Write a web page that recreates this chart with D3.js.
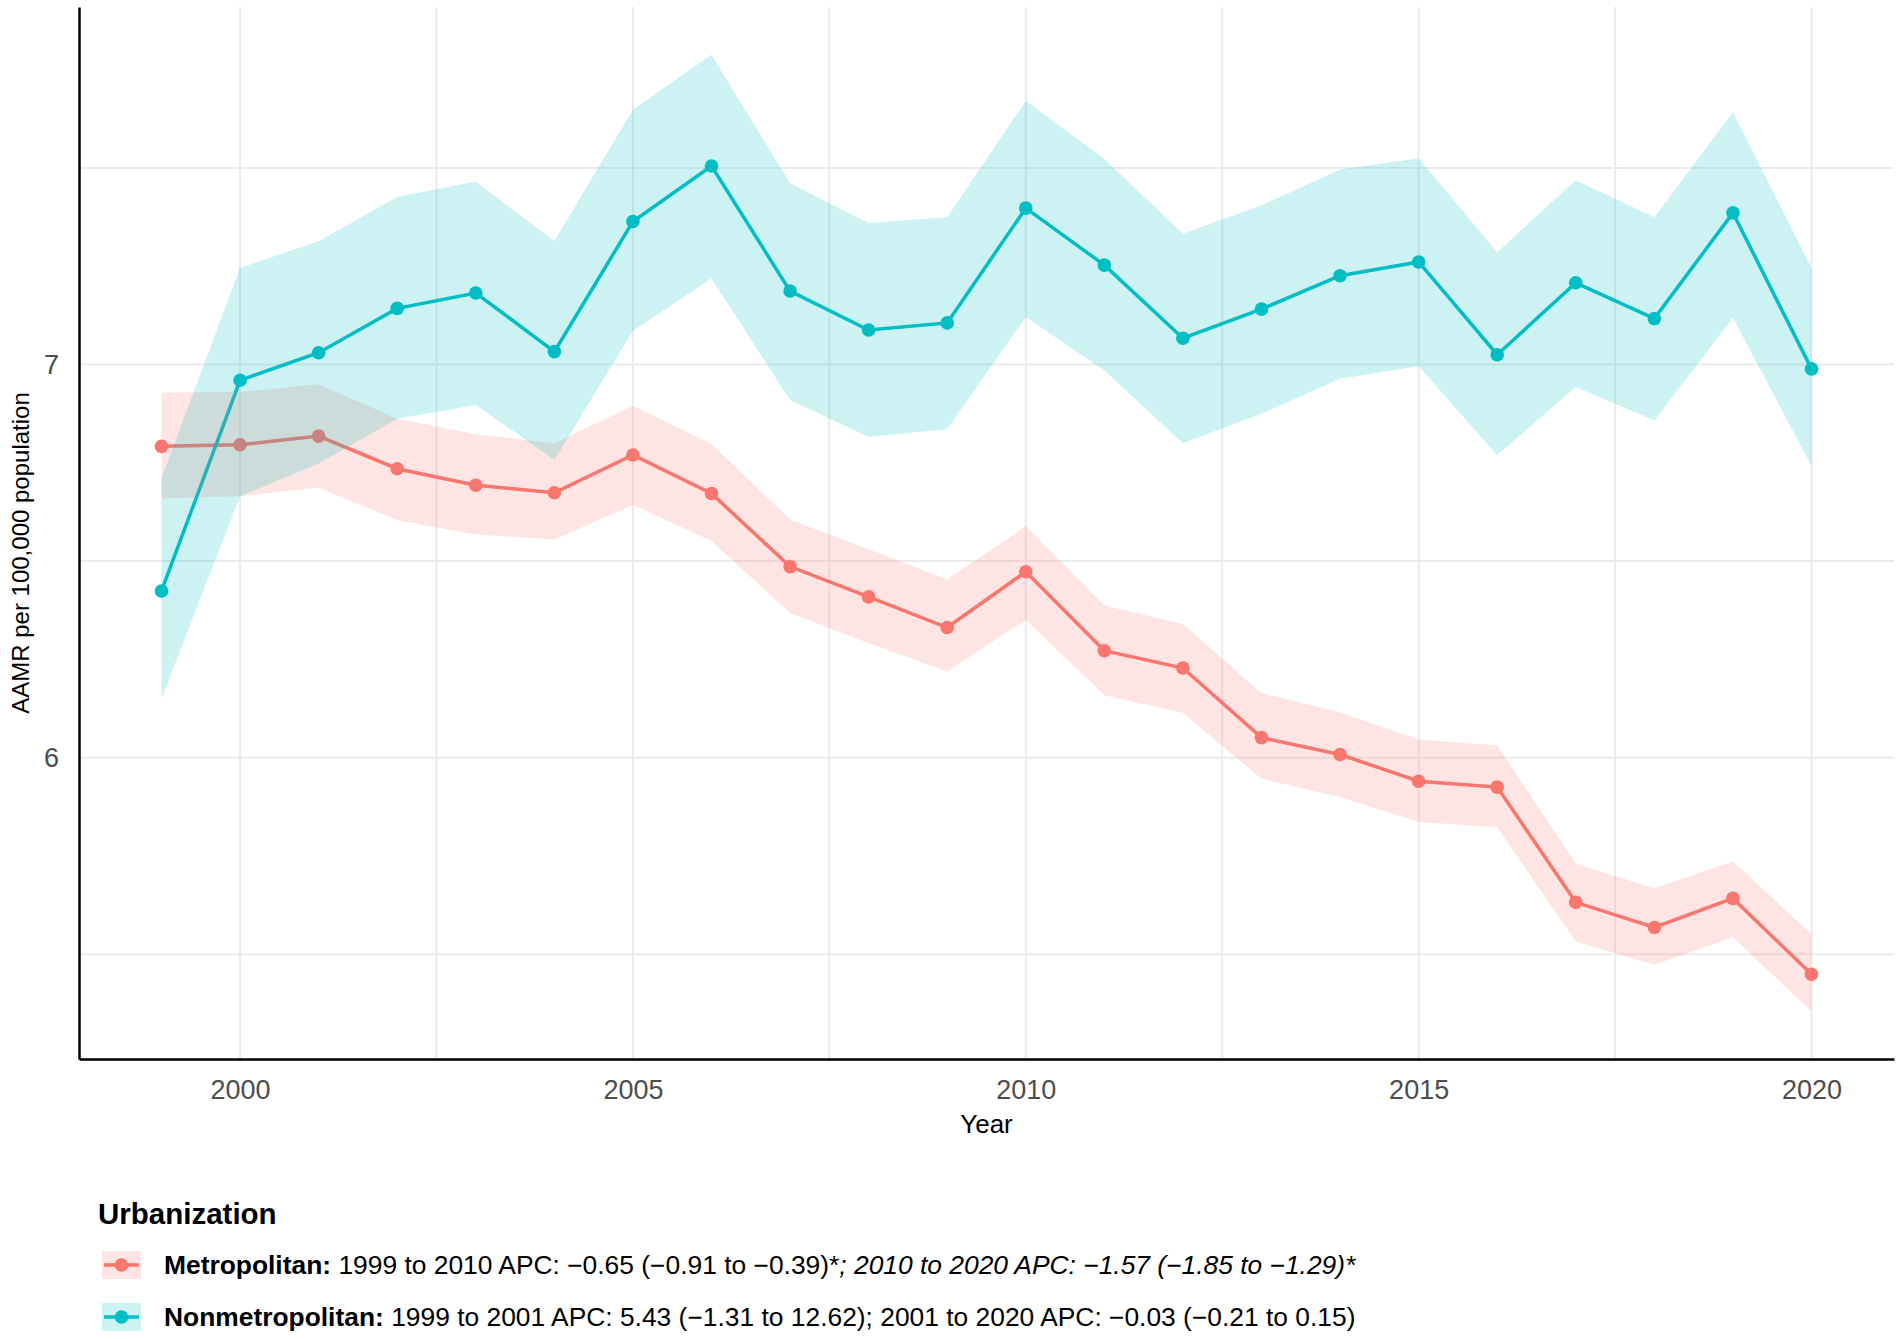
<!DOCTYPE html>
<html>
<head>
<meta charset="utf-8">
<script src="https://cdn.jsdelivr.net/npm/d3@7"></script>
<style>
  body { margin: 0; background: #fff; }
  text { font-family: "Liberation Sans", Arial, sans-serif; }
</style>
</head>
<body>
<script>
const years = d3.range(1999, 2021)

const metro   = [6.792, 6.796, 6.818, 6.735, 6.693, 6.674, 6.770, 6.672, 6.486, 6.409, 6.331, 6.473, 6.272, 6.228, 6.051, 6.008, 5.940, 5.925, 5.632, 5.568, 5.642, 5.449]
const metroLo = [6.660, 6.665, 6.687, 6.604, 6.568, 6.555, 6.643, 6.551, 6.368, 6.291, 6.219, 6.351, 6.159, 6.114, 5.946, 5.900, 5.836, 5.823, 5.532, 5.473, 5.543, 5.355]
const metroHi = [6.928, 6.930, 6.950, 6.862, 6.823, 6.800, 6.895, 6.798, 6.606, 6.530, 6.453, 6.589, 6.387, 6.340, 6.164, 6.115, 6.046, 6.031, 5.730, 5.668, 5.736, 5.551]

const nonmetro   = [6.424, 6.960, 7.030, 7.143, 7.182, 7.033, 7.364, 7.505, 7.187, 7.088, 7.106, 7.398, 7.253, 7.067, 7.141, 7.226, 7.261, 7.025, 7.208, 7.117, 7.386, 6.989]
const nonmetroLo = [6.150, 6.665, 6.748, 6.862, 6.897, 6.757, 7.086, 7.219, 6.910, 6.816, 6.836, 7.121, 6.985, 6.800, 6.875, 6.964, 6.996, 6.769, 6.943, 6.858, 7.119, 6.742]
const nonmetroHi = [6.710, 7.246, 7.314, 7.426, 7.466, 7.314, 7.649, 7.788, 7.461, 7.360, 7.375, 7.671, 7.523, 7.333, 7.405, 7.496, 7.525, 7.286, 7.469, 7.375, 7.642, 7.246]

const xTicks = [2000, 2005, 2010, 2015, 2020]
const xMinor = [2002.5, 2007.5, 2012.5, 2017.5]
const yTicks = [6, 7]
const yMinor = [5.5, 6.5, 7.5]

const groups = [
    { name: "Metropolitan", color: "#F8766D", val: metro, lo: metroLo, hi: metroHi,
      label: ["Metropolitan:", " 1999 to 2010 APC: \u22120.65 (\u22120.91 to \u22120.39)*", "; 2010 to 2020 APC: \u22121.57 (\u22121.85 to \u22121.29)*"] },
    { name: "Nonmetropolitan", color: "#00BFC4", val: nonmetro, lo: nonmetroLo, hi: nonmetroHi,
      label: ["Nonmetropolitan:", " 1999 to 2001 APC: 5.43 (\u22121.31 to 12.62); 2001 to 2020 APC: \u22120.03 (\u22120.21 to 0.15)", ""] }
]

var width = 1902,
    height = 1339;

var panel = { left: 79, right: 1894, top: 7, bottom: 1059 }

var svg = d3.select("body").append("svg")
    .attr("width", width)
    .attr("height", height);

// ggplot style 5% expansion
const xExt = d3.extent(years), xPad = (xExt[1] - xExt[0]) * 0.05
const yExt = [d3.min(metroLo.concat(nonmetroLo)), d3.max(metroHi.concat(nonmetroHi))]
const yPad = (yExt[1] - yExt[0]) * 0.05

var x = d3.scaleLinear().domain([xExt[0] - xPad, xExt[1] + xPad]).range([panel.left, panel.right])
var y = d3.scaleLinear().domain([yExt[0] - yPad, yExt[1] + yPad]).range([panel.bottom, panel.top])

// grid
var grid = svg.append("g").attr("stroke", "#ebebeb").attr("stroke-width", 2)
grid.selectAll(".vx").data(xTicks.concat(xMinor)).join("line")
    .attr("x1", d => x(d)).attr("x2", d => x(d))
    .attr("y1", panel.top).attr("y2", panel.bottom)
grid.selectAll(".hy").data(yTicks.concat(yMinor)).join("line")
    .attr("x1", panel.left).attr("x2", panel.right)
    .attr("y1", d => y(d)).attr("y2", d => y(d))

// lines + points first, ribbons drawn over them (as in the original)
var line = d3.line().x((d, i) => x(years[i])).y(d => y(d))
var area = d3.area().x((d, i) => x(years[i])).y0((d, i) => y(d[0])).y1(d => y(d[1]))

groups.forEach(g => {
    svg.append("path")
        .attr("d", line(g.val))
        .attr("fill", "none")
        .attr("stroke", g.color)
        .attr("stroke-width", 3.5)
    svg.append("g").selectAll("circle").data(g.val).join("circle")
        .attr("cx", (d, i) => x(years[i]))
        .attr("cy", d => y(d))
        .attr("r", 6.8)
        .attr("fill", g.color)
})

groups.forEach(g => {
    svg.append("path")
        .attr("d", area(g.lo.map((d, i) => [d, g.hi[i]])))
        .attr("fill", g.color)
        .attr("fill-opacity", 0.2)
})

// axes
var xAxis = svg.append("g").attr("transform", `translate(0,${panel.bottom})`)
    .call(d3.axisBottom(x).tickValues(xTicks).tickFormat(d3.format("d")).tickSize(0).tickPadding(21))
var yAxis = svg.append("g").attr("transform", `translate(${panel.left},0)`)
    .call(d3.axisLeft(y).tickValues(yTicks).tickFormat(d3.format("d")).tickSize(0).tickPadding(20))

;[xAxis, yAxis].forEach(a => {
    a.select(".domain").attr("stroke", "#000").attr("stroke-width", 2.5)
    a.selectAll(".tick text")
        .attr("fill", "#4d4d4d")
        .style("font-size", "27px")
        .style("font-family", "'Liberation Sans', Arial, sans-serif")
})

svg.append("text")
    .attr("x", (panel.left + panel.right) / 2)
    .attr("y", 1133)
    .attr("text-anchor", "middle")
    .style("font-size", "26px")
    .text("Year")

svg.append("text")
    .attr("transform", `translate(29,553) rotate(-90)`)
    .attr("text-anchor", "middle")
    .style("font-size", "24px")
    .text("AAMR per 100,000 population")

// legend
var legend = svg.append("g")
legend.append("text")
    .attr("x", 98).attr("y", 1224)
    .style("font-size", "29.5px")
    .style("font-weight", "bold")
    .text("Urbanization")

var rowY = [1265, 1317]
groups.forEach((g, i) => {
    var row = legend.append("g").attr("transform", `translate(0,${rowY[i]})`)
    row.append("rect")
        .attr("x", 102).attr("y", -14).attr("width", 39).attr("height", 28)
        .attr("fill", g.color).attr("fill-opacity", 0.2)
    row.append("line")
        .attr("x1", 104).attr("x2", 139)
        .attr("stroke", g.color).attr("stroke-width", 3.5)
    row.append("circle").attr("cx", 121.5).attr("r", 6.8).attr("fill", g.color)

    var t = row.append("text")
        .attr("x", 164).attr("y", 9)
        .style("font-size", "25.5px")
    t.append("tspan").style("font-weight", "bold").text(g.label[0])
    t.append("tspan").text(g.label[1])
    if (g.label[2]) t.append("tspan").style("font-style", "italic").text(g.label[2])

    // the original legend type is narrower, squeeze to the same width
    var w = t.node().getComputedTextLength()
    var k = (1356 - 164) / w
    t.attr("transform", `translate(${164 * (1 - k)},0) scale(${k},1)`)
})
</script>
</body>
</html>
